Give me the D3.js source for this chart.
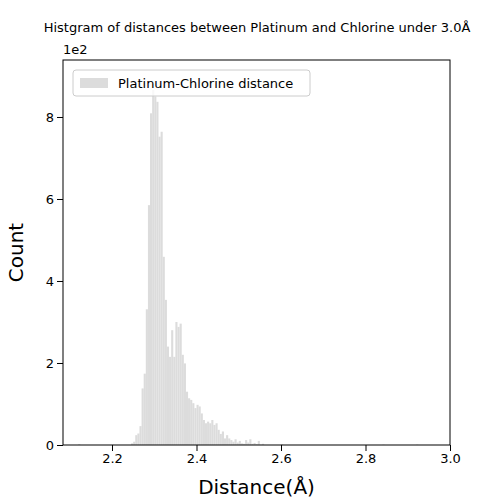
<!DOCTYPE html>
<html><head><meta charset="utf-8">
<script src="https://cdn.jsdelivr.net/npm/d3@7"></script>
<style>body{margin:0;background:#fff}text{font-family:"DejaVu Sans",sans-serif}</style>
</head><body><div id="chart"></div>
<script>
// histogram bins, width 0.005 A, main block starting at 2.245
const binWidth = 0.005;
const mainStart = 2.245;
const mainCounts = [4, 8, 24, 28, 46, 138, 174, 331, 585, 809, 866, 850, 837, 752, 764, 459,
  354, 240, 215, 280, 215, 300, 288, 296, 220, 199, 130, 114, 110, 102, 90, 98, 94, 77, 61,
  53, 57, 53, 61, 49, 53, 37, 27, 33, 16, 24, 16, 12, 8, 14, 6, 10, 4, 3, 12, 6, 14, 3, 5, 2, 10, 1, 3];
// isolated bins outside the main block
const extraStarts = [2.12, 2.20, 2.60, 2.84, 2.92];
const extraCounts = [2, 1, 2, 1, 1];
const xTicks = [2.2, 2.4, 2.6, 2.8, 3.0];
const yTicks = [0, 200, 400, 600, 800];

const bins = mainCounts.map((c, i) => ({x0: mainStart + i * binWidth, n: c}))
  .concat(extraStarts.map((s, i) => ({x0: s, n: extraCounts[i]})));

const W = 500, H = 500;
const margin = {top: 60, right: 50, bottom: 55, left: 63};
const width = W - margin.left - margin.right,
      height = H - margin.top - margin.bottom;

const svg = d3.select("#chart").append("svg").attr("width", W).attr("height", H);
const g = svg.append("g").attr("transform", `translate(${margin.left},${margin.top})`);

const x = d3.scaleLinear().domain([2.084, 3.0]).range([0, width]);
const y = d3.scaleLinear().domain([0, 939]).range([height, 0]);

g.selectAll("rect.bar").data(bins).enter().append("rect")
  .attr("class", "bar")
  .attr("x", d => x(d.x0))
  .attr("width", d => x(d.x0 + binWidth) - x(d.x0))
  .attr("y", d => y(d.n))
  .attr("height", d => height - y(d.n))
  .attr("fill", "#dcdcdc");

const xAxis = g.append("g").attr("transform", `translate(0,${height})`)
  .call(d3.axisBottom(x).tickValues(xTicks).tickFormat(d3.format(".1f")).tickSizeOuter(0));
const yAxis = g.append("g")
  .call(d3.axisLeft(y).tickValues(yTicks).tickFormat(d => d / 100).tickSizeOuter(0));
[xAxis, yAxis].forEach(a => {
  a.selectAll("text").style("font-size", "13px").attr("fill", "#000");
  a.select(".domain").remove();
});

g.append("rect").attr("width", width).attr("height", height)
  .attr("fill", "none").attr("stroke", "#000").attr("stroke-width", 1);

svg.append("text").attr("x", 63).attr("y", 54).style("font-size", "13px").text("1e2");

svg.append("text").attr("x", 257).attr("y", 32).attr("text-anchor", "middle")
  .style("font-size", "13px").text("Histgram of distances between Platinum and Chlorine under 3.0Å");

svg.append("text").attr("x", margin.left + width / 2).attr("y", 494).attr("text-anchor", "middle")
  .style("font-size", "20px").text("Distance(Å)");

svg.append("text").attr("transform", `translate(16,${margin.top + height / 2}) rotate(-90)`)
  .attr("text-anchor", "middle").attr("dy", "0.35em")
  .style("font-size", "20px").text("Count");

// legend
const leg = g.append("g").attr("transform", "translate(10,10)");
leg.append("rect").attr("width", 237).attr("height", 26).attr("rx", 3)
  .attr("fill", "#fff").attr("fill-opacity", 0.8).attr("stroke", "#ccc");
leg.append("rect").attr("x", 7).attr("y", 8).attr("width", 28).attr("height", 10).attr("fill", "#dcdcdc");
leg.append("text").attr("x", 45).attr("y", 17.5).style("font-size", "13px").text("Platinum-Chlorine distance");
</script></body></html>
